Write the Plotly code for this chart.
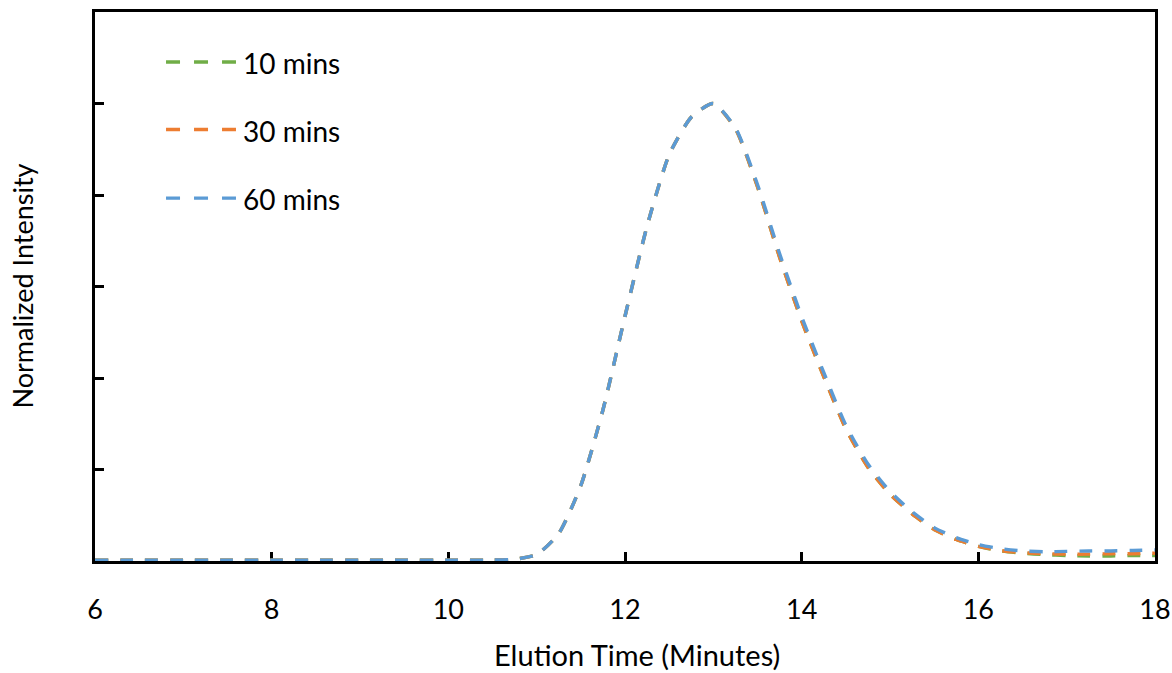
import plotly.graph_objects as go

# Elution time (minutes)
time_min = [6.0, 6.5, 7.0, 7.5, 8.0, 8.5, 9.0, 9.5, 10.0, 10.5, 10.75, 11.0, 11.25, 11.5,
            11.75, 12.0, 12.25, 12.5, 12.75, 13.0, 13.25, 13.5, 13.75, 14.0, 14.25, 14.5,
            14.75, 15.0, 15.25, 15.5, 15.75, 16.0, 16.25, 16.5, 16.75, 17.0, 17.25, 17.5,
            17.75, 18.0]

int_60 = [0.002, 0.002, 0.002, 0.002, 0.002, 0.002, 0.002, 0.002, 0.002, 0.002, 0.004, 0.014,
          0.060, 0.165, 0.330, 0.535, 0.732, 0.888, 0.970, 1.000, 0.947, 0.823, 0.672, 0.534,
          0.412, 0.297, 0.212, 0.152, 0.108, 0.073, 0.051, 0.036, 0.027, 0.022, 0.020, 0.021,
          0.022, 0.022, 0.023, 0.024]

int_30 = [0.002, 0.002, 0.002, 0.002, 0.002, 0.002, 0.002, 0.002, 0.002, 0.002, 0.004, 0.014,
          0.060, 0.165, 0.330, 0.535, 0.732, 0.888, 0.970, 1.000, 0.945, 0.818, 0.664, 0.525,
          0.403, 0.289, 0.205, 0.146, 0.103, 0.069, 0.047, 0.032, 0.023, 0.018, 0.016, 0.015,
          0.015, 0.016, 0.016, 0.017]

int_10 = [0.002, 0.002, 0.002, 0.002, 0.002, 0.002, 0.002, 0.002, 0.002, 0.002, 0.004, 0.014,
          0.060, 0.165, 0.330, 0.535, 0.732, 0.888, 0.970, 1.000, 0.945, 0.818, 0.664, 0.525,
          0.403, 0.289, 0.205, 0.146, 0.103, 0.069, 0.047, 0.032, 0.022, 0.017, 0.014, 0.012,
          0.011, 0.011, 0.012, 0.012]

series_names = ["10 mins", "30 mins", "60 mins"]
series_values = [int_10, int_30, int_60]
series_colors = ["#70AD47", "#ED7D31", "#5B9BD5"]

x_ticks = [6, 8, 10, 12, 14, 16, 18]
y_ticks = [0, 0.2, 0.4, 0.6, 0.8, 1.0, 1.2]

FONT = "Lato, Carlito, Calibri, sans-serif"
DASH = "13px,12px"

fig = go.Figure()
for name, vals, col in zip(series_names, series_values, series_colors):
    fig.add_trace(go.Scatter(
        x=time_min, y=vals, name=name, mode="lines",
        line=dict(color=col, width=3.4, dash=DASH, shape="spline", smoothing=0.6),
        showlegend=False, hoverinfo="x+y+name",
    ))

# manual legend (top-left inside the plot)
leg_y = [0.909, 0.786, 0.661]
for name, col, yy in zip(series_names, series_colors, leg_y):
    fig.add_shape(type="line", xref="paper", yref="paper",
                  x0=0.067, x1=0.133, y0=yy, y1=yy,
                  line=dict(color=col, width=3.4, dash="14px,14px"))
    fig.add_annotation(xref="paper", yref="paper", x=0.1375, y=yy - 0.002,
                       text=name, showarrow=False, xanchor="left", yanchor="middle",
                       font=dict(family=FONT, size=28, color="black"))

# axis titles
fig.add_annotation(xref="paper", yref="paper", x=(637 - 95) / 1060, y=(561 - 654) / 549,
                   text="Elution Time (Minutes)", showarrow=False,
                   xanchor="center", yanchor="middle",
                   font=dict(family=FONT, size=29, color="black"))
fig.add_annotation(xref="paper", yref="paper", x=(22 - 95) / 1060, y=0.5,
                   text="Normalized Intensity", showarrow=False, textangle=-90,
                   xanchor="center", yanchor="middle",
                   font=dict(family=FONT, size=27, color="black"))

fig.update_layout(
    width=1172, height=673,
    margin=dict(l=95, r=17, t=12, b=112),
    paper_bgcolor="white", plot_bgcolor="white",
    font=dict(family=FONT, size=27, color="black"),
)
fig.update_xaxes(
    range=[6, 18], tickvals=x_ticks, ticktext=[str(v) for v in x_ticks],
    ticks="inside", ticklen=9, tickwidth=2.5, tickcolor="black",
    showline=True, linecolor="black", linewidth=2.5, mirror=True,
    showgrid=False, zeroline=False, layer="below traces", automargin=False,
    tickfont=dict(size=27), ticklabelstandoff=23,
)
fig.update_yaxes(
    range=[0, 1.2], tickvals=y_ticks, showticklabels=False,
    ticks="inside", ticklen=9, tickwidth=2.5, tickcolor="black",
    showline=True, linecolor="black", linewidth=2.5, mirror=True,
    showgrid=False, zeroline=False, layer="below traces", automargin=False,
)

fig.write_html("out.html")
